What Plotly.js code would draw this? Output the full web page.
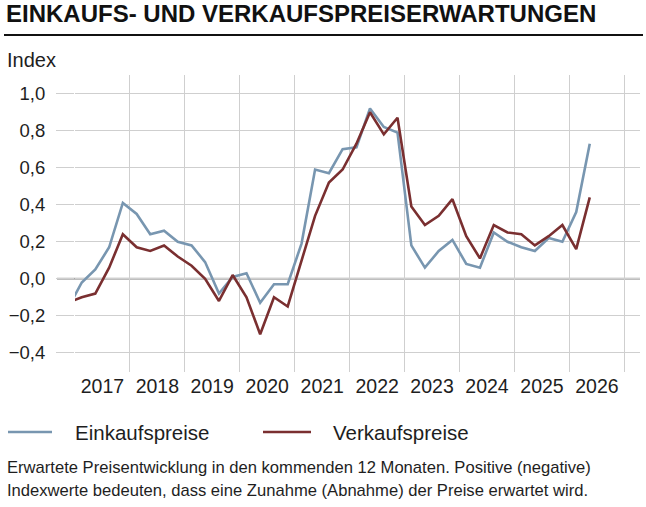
<!DOCTYPE html>
<html>
<head>
<meta charset="utf-8">
<script src="https://cdn.plot.ly/plotly-3.0.1.min.js"></script>
<style>
html,body{margin:0;padding:0;background:#fff;}
#chart{width:646px;height:507px;}
</style>
</head>
<body>
<div id="chart"></div>
<script>
// ---- Data (quarterly) ----
const quarters = ["2016Q4",
  "2017Q1","2017Q2","2017Q3","2017Q4",
  "2018Q1","2018Q2","2018Q3","2018Q4",
  "2019Q1","2019Q2","2019Q3","2019Q4",
  "2020Q1","2020Q2","2020Q3","2020Q4",
  "2021Q1","2021Q2","2021Q3","2021Q4",
  "2022Q1","2022Q2","2022Q3","2022Q4",
  "2023Q1","2023Q2","2023Q3","2023Q4",
  "2024Q1","2024Q2","2024Q3","2024Q4",
  "2025Q1","2025Q2","2025Q3","2025Q4",
  "2026Q1","2026Q2"];
const einkaufspreise = [-0.16,
  -0.02, 0.05, 0.17, 0.41,
   0.35, 0.24, 0.26, 0.20,
   0.18, 0.09,-0.08, 0.01,
   0.03,-0.13,-0.03,-0.03,
   0.19, 0.59, 0.57, 0.70,
   0.71, 0.92, 0.82, 0.79,
   0.18, 0.06, 0.15, 0.21,
   0.08, 0.06, 0.25, 0.20,
   0.17, 0.15, 0.22, 0.20,
   0.36, 0.73];
const verkaufspreise = [-0.13,
  -0.10,-0.08, 0.06, 0.24,
   0.17, 0.15, 0.18, 0.12,
   0.07, 0.00,-0.12, 0.02,
  -0.10,-0.30,-0.10,-0.15,
   0.10, 0.34, 0.52, 0.59,
   0.73, 0.90, 0.78, 0.87,
   0.39, 0.29, 0.34, 0.43,
   0.23, 0.11, 0.29, 0.25,
   0.24, 0.18, 0.23, 0.29,
   0.16, 0.44];
const seriesNames = ["Einkaufspreise", "Verkaufspreise"];
const yTicks = [-0.4,-0.2,0,0.2,0.4,0.6,0.8,1.0];

// ---- helpers ----
const midQuarter = {Q1:"-02-15", Q2:"-05-16", Q3:"-08-16", Q4:"-11-15"};
const xDates = quarters.map(q => q.slice(0,4) + midQuarter[q.slice(4)]);

const W = 646, H = 507;
const L = 75, T = 75, PW = 565, PH = 297;
const px = x => (x - L) / PW;          // pixel -> paper x
const py = y => (T + PH - y) / PH;     // pixel -> paper y

const FONT = "Liberation Sans, Arial, sans-serif";
const BLUE = "#7896b0";
const RED = "#7a2f30";
const GRID = "#cfcfcf";
const TXT = "#1e1e1e";

const traces = [
  {x: xDates, y: einkaufspreise, name: seriesNames[0], type: "scatter", mode: "lines",
   line: {color: BLUE, width: 2.6}, showlegend: false, hoverinfo: "x+y"},
  {x: xDates, y: verkaufspreise, name: seriesNames[1], type: "scatter", mode: "lines",
   line: {color: RED, width: 2.6}, showlegend: false, hoverinfo: "x+y"}
];

const shapes = [
  // rule under title
  {type: "line", xref: "paper", yref: "paper", x0: px(4), x1: px(643), y0: py(35), y1: py(35),
   line: {color: "#111", width: 2.2}, layer: "above"},
  // zero line (extends left like the grid)
  {type: "line", xref: "paper", yref: "y", x0: px(57), x1: 1, y0: 0, y1: 0,
   line: {color: "#a8a8a8", width: 2.2}, layer: "below"},
  // legend samples
  {type: "line", xref: "paper", yref: "paper", x0: px(8), x1: px(52), y0: py(432), y1: py(432),
   line: {color: BLUE, width: 2.6}},
  {type: "line", xref: "paper", yref: "paper", x0: px(263), x1: px(311), y0: py(432), y1: py(432),
   line: {color: RED, width: 2.6}}
];

const annotations = [
  {text: "Index", xref: "paper", yref: "paper", x: px(5), y: py(60), xanchor: "left", yanchor: "middle",
   showarrow: false, font: {family: FONT, size: 20, color: TXT}},
  {text: seriesNames[0], xref: "paper", yref: "paper", x: px(73), y: py(432), xanchor: "left", yanchor: "middle",
   showarrow: false, font: {family: FONT, size: 20.5, color: TXT}},
  {text: seriesNames[1], xref: "paper", yref: "paper", x: px(331), y: py(432), xanchor: "left", yanchor: "middle",
   showarrow: false, font: {family: FONT, size: 20.5, color: TXT}},
  {text: "Erwartete Preisentwicklung in den kommenden 12 Monaten. Positive (negative)",
   xref: "paper", yref: "paper", x: px(5), y: py(467), xanchor: "left", yanchor: "middle",
   showarrow: false, font: {family: FONT, size: 16.6, color: TXT}},
  {text: "Indexwerte bedeuten, dass eine Zunahme (Abnahme) der Preise erwartet wird.",
   xref: "paper", yref: "paper", x: px(5), y: py(490), xanchor: "left", yanchor: "middle",
   showarrow: false, font: {family: FONT, size: 16.6, color: TXT}}
];

const layout = {
  width: W, height: H,
  margin: {l: L, r: W - L - PW, t: T, b: H - T - PH, pad: 0},
  paper_bgcolor: "#fff", plot_bgcolor: "#fff",
  separators: ",.",
  font: {family: FONT, size: 18, color: TXT},
  title: {text: "<b>EINKAUFS- UND VERKAUFSPREISERWARTUNGEN</b>", xref: "container", yref: "container",
          x: 6 / W, xanchor: "left", y: 1 - 14 / H, yanchor: "middle",
          font: {family: FONT, size: 24, color: "#111"}},
  xaxis: {
    type: "date",
    range: ["2017-01-01", "2027-04-15"],
    tick0: "2017-01-01", dtick: "M12",
    ticklabelmode: "period", tickformat: "%Y",
    showgrid: true, gridcolor: GRID, gridwidth: 1,
    zeroline: false, showline: false, ticks: "",
    tickfont: {family: FONT, size: 19.5, color: TXT},
    fixedrange: true
  },
  yaxis: {
    range: [-0.504, 1.101],
    tickvals: yTicks, tickformat: ".1f",
    showgrid: true, gridcolor: GRID, gridwidth: 1,
    zeroline: false, showline: false,
    ticks: "outside", ticklen: 18, tickcolor: GRID, tickwidth: 1,
    ticklabelstandoff: 7,
    tickfont: {family: FONT, size: 18.5, color: TXT},
    fixedrange: true
  },
  shapes: shapes,
  annotations: annotations,
  showlegend: false
};

Plotly.newPlot("chart", traces, layout, {displayModeBar: false, staticPlot: true});
</script>
</body>
</html>
